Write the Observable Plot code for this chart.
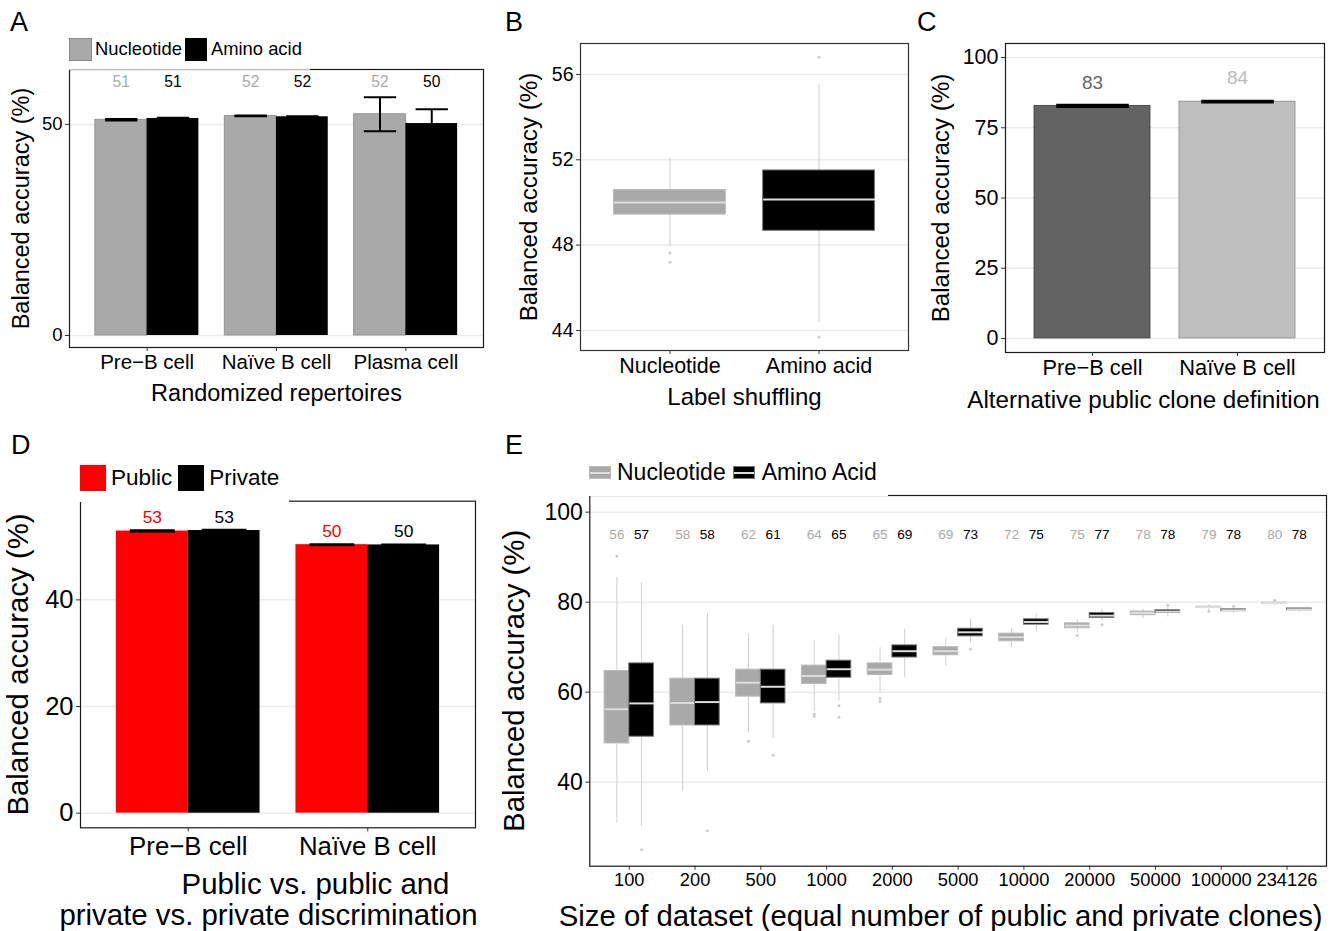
<!DOCTYPE html>
<html><head><meta charset="utf-8">
<script src="https://cdn.jsdelivr.net/npm/d3@7"></script>
<script src="https://cdn.jsdelivr.net/npm/@observablehq/plot@0.6"></script>
<style>
body{margin:0;background:#fff;}
#fig{position:relative;width:1339px;height:931px;font-family:"Liberation Sans",Arial,Helvetica,sans-serif;color:#000;overflow:hidden;background:#fff;}
.letter{position:absolute;font-size:27px;line-height:1;}
.legend{position:absolute;display:flex;align-items:center;white-space:nowrap;line-height:1;}
.key{display:inline-block;box-sizing:border-box;position:relative;flex:none;}
.med{position:absolute;left:0;right:0;top:4.5px;height:2px;background:#ddd;}
.cover{position:absolute;}
</style></head><body><div id="fig"></div>
<script>
const FONT = '"Liberation Sans", Arial, Helvetica, sans-serif';

// ---------- Panel A: randomized repertoires ----------
const seriesA = ["Nucleotide", "Amino acid"];
const catsA = ["Pre\u2212B cell", "Na\u00efve B cell", "Plasma cell"];
const nucA = [51.1, 52.0, 52.4];
const aaA = [51.4, 51.8, 50.2];
const nucErrA = [0.15, 0.1, 4.05];
const aaErrA = [0.15, 0.1, 3.4];
const nucLabA = [51, 52, 52];
const aaLabA = [51, 52, 50];

// ---------- Panel B: label shuffling ----------
const catsB = ["Nucleotide", "Amino acid"];
const q1B = [49.43, 48.67];
const medB = [50.0, 50.14];
const q3B = [50.58, 51.5];
const loB = [47.94, 44.39];
const hiB = [52.08, 55.56];
const outB = [[47.63, 47.2], [56.81, 43.69]];

// ---------- Panel C: alternative public clone definition ----------
const catsC = ["Pre\u2212B cell", "Na\u00efve B cell"];
const valC = [82.8, 84.3];
const errC = [0.3, 0.2];
const labC = [83, 84];

// ---------- Panel D: public vs public / private vs private ----------
const seriesD = ["Public", "Private"];
const catsD = ["Pre\u2212B cell", "Na\u00efve B cell"];
const pubD = [52.9, 50.35];
const privD = [53.0, 50.3];
const pubErrD = [0.15, 0.1];
const privErrD = [0.15, 0.1];
const pubLabD = [53, 50];
const privLabD = [53, 50];

// ---------- Panel E: dataset size ----------
const seriesE = ["Nucleotide", "Amino Acid"];
const sizesE = ["100", "200", "500", "1000", "2000", "5000", "10000", "20000", "50000", "100000", "234126"];
const nucQ1 = [48.6, 52.6, 59.0, 61.8, 63.8, 68.2, 71.3, 74.2, 77.1, 78.7, 79.6];
const nucMed = [56.2, 57.6, 62.1, 63.6, 65.0, 69.1, 72.2, 74.8, 77.6, 78.9, 79.8];
const nucQ3 = [64.7, 63.0, 65.0, 65.9, 66.4, 70.0, 73.0, 75.3, 77.9, 79.0, 79.9];
const nucLo = [31.0, 38.1, 51.0, 55.8, 59.9, 65.9, 70.0, 73.3, 76.5, 78.3, 79.4];
const nucHi = [85.6, 75.0, 73.0, 71.5, 70.0, 72.1, 74.3, 76.2, 78.5, 79.5, 80.4];
const nucOut = [[90.2], [], [49.1], [55.1, 54.6], [58.6, 57.9], [], [], [72.6], [], [78.0], [80.4]];
const aaQ1 = [50.1, 52.6, 57.5, 63.2, 67.7, 72.4, 75.0, 76.5, 77.6, 78.0, 78.2];
const aaMed = [57.5, 57.8, 61.2, 65.1, 69.1, 73.3, 75.6, 77.0, 77.9, 78.2, 78.4];
const aaQ3 = [66.4, 63.0, 65.0, 67.0, 70.4, 74.1, 76.2, 77.6, 78.2, 78.4, 78.6];
const aaLo = [30.3, 42.5, 49.8, 58.1, 63.4, 71.0, 73.6, 75.9, 76.8, 77.6, 77.8];
const aaHi = [84.4, 77.6, 75.0, 72.8, 74.1, 76.3, 77.6, 78.5, 78.9, 78.8, 78.8];
const aaOut = [[25.0], [29.2], [46.0], [57.0, 54.4], [], [69.6], [], [75.0], [79.3], [79.1], []];
const nucLabE = [56, 58, 62, 64, 65, 69, 72, 75, 78, 79, 80];
const aaLabE = [57, 58, 61, 65, 69, 73, 75, 77, 78, 78, 78];

const YTITLE = "Balanced accuracy (%)";

// ---------- styles ----------
const NUC = "#a9a9a9", NUC_EDGE = "#888", NUC_BOX_EDGE = "#bbb", AA = "#000", AA_BOX_EDGE = "#777";
const GRID = "#ebebeb", WHISK = "#cfcfcf", MEDIAN = "#dddddd", OUTL = "#cccccc";

const fig = document.getElementById("fig");
function place(el, left, top) {
  el.style.position = "absolute"; el.style.left = left + "px"; el.style.top = top + "px";
  fig.appendChild(el); return el;
}
function baseStyle() { return {fontFamily: FONT, color: "#000", background: "transparent", overflow: "visible"}; }
const FRAME = () => Plot.frame({stroke: "#1a1a1a", strokeWidth: 1.2});
const yTitle = (dx, fontSize) => Plot.text([YTITLE], {frameAnchor: "left", rotate: -90, dx, fontSize, text: d => d, textAnchor: "middle", lineAnchor: "middle"});
const xTitle = (t, dy, fontSize, dx = 0) => Plot.text([t], {frameAnchor: "bottom", dx, dy, fontSize, text: d => d, textAnchor: "middle", lineAnchor: "middle"});

function errMarks(rows, cap, sw) {
  return [
    Plot.link(rows, {x1: "xc", x2: "xc", y1: d => d.v - d.e, y2: d => d.v + d.e, stroke: "#000", strokeWidth: sw}),
    Plot.link(rows, {x1: d => d.xc - cap, x2: d => d.xc + cap, y1: d => d.v + d.e, y2: d => d.v + d.e, stroke: "#000", strokeWidth: sw}),
    Plot.link(rows, {x1: d => d.xc - cap, x2: d => d.xc + cap, y1: d => d.v - d.e, y2: d => d.v - d.e, stroke: "#000", strokeWidth: sw})
  ];
}
function boxMarks(rows, fill, edge) {
  const outs = rows.flatMap(d => d.out.map(v => ({xc: d.xc, v})));
  return [
    Plot.link(rows, {x1: "xc", x2: "xc", y1: "lo", y2: "q1", stroke: WHISK, strokeWidth: 1}),
    Plot.link(rows, {x1: "xc", x2: "xc", y1: "q3", y2: "hi", stroke: WHISK, strokeWidth: 1}),
    Plot.rect(rows, {x1: "x1", x2: "x2", y1: "q1", y2: "q3", fill, stroke: edge, strokeWidth: 1}),
    Plot.link(rows, {x1: "x1", x2: "x2", y1: "med", y2: "med", stroke: MEDIAN, strokeWidth: 2}),
    Plot.dot(outs, {x: "xc", y: "v", r: 1.5, fill: OUTL, stroke: null})
  ];
}

// ================= Panel A =================
{
  const nuc = catsA.map((c, k) => ({x1: k + 0.6, x2: k + 1, xc: k + 0.8, v: nucA[k], e: nucErrA[k], lab: nucLabA[k]}));
  const aa = catsA.map((c, k) => ({x1: k + 1, x2: k + 1.4, xc: k + 1.2, v: aaA[k], e: aaErrA[k], lab: aaLabA[k]}));
  const p = Plot.plot({
    width: 490, height: 420, marginLeft: 69, marginRight: 7, marginTop: 69, marginBottom: 73,
    style: baseStyle(),
    x: {domain: [0.4, 3.6]}, y: {domain: [-2.84, 63]},
    marks: [
      Plot.gridY([0, 50], {stroke: GRID, strokeOpacity: 1, strokeWidth: 1.5}),
      Plot.rect(nuc, {x1: "x1", x2: "x2", y1: 0, y2: "v", fill: NUC, stroke: NUC_EDGE, strokeWidth: 0.8}),
      Plot.rect(aa, {x1: "x1", x2: "x2", y1: 0, y2: "v", fill: AA}),
      ...errMarks(nuc, 0.125, 2), ...errMarks(aa, 0.125, 2),
      Plot.text(nuc, {x: "xc", y: () => 60, text: "lab", fill: "#aaa", fontSize: 15.6}),
      Plot.text(aa, {x: "xc", y: () => 60, text: "lab", fill: "#000", fontSize: 15.6}),
      FRAME(),
      Plot.axisY({ticks: [0, 50], tickSize: 4, tickPadding: 3, fontSize: 18.5, label: null, stroke: "#333", fill: "#000"}),
      Plot.axisX({ticks: [1, 2, 3], tickFormat: i => catsA[i - 1], tickSize: 4, tickPadding: 3, fontSize: 20.5, label: null, stroke: "#333", fill: "#000"}),
      yTitle(-48, 23.5),
      xTitle("Randomized repertoires", 45.5, 23.5)
    ]
  });
  place(p, 0, 0);
}

// ================= Panel B =================
{
  const rows = catsB.map((c, k) => ({x1: k + 1 - 0.375, x2: k + 1 + 0.375, xc: k + 1, q1: q1B[k], med: medB[k], q3: q3B[k], lo: loB[k], hi: hiB[k], out: outB[k]}));
  const p = Plot.plot({
    width: 420, height: 420, marginLeft: 90, marginRight: 2, marginTop: 43, marginBottom: 70,
    style: baseStyle(),
    x: {domain: [0.4, 2.6]}, y: {domain: [43.06, 57.45]},
    marks: [
      Plot.gridY([44, 48, 52, 56], {stroke: GRID, strokeOpacity: 1, strokeWidth: 1.5}),
      ...boxMarks([rows[0]], NUC, NUC_BOX_EDGE),
      ...boxMarks([rows[1]], AA, AA_BOX_EDGE),
      Plot.frame({stroke: "#333", strokeWidth: 1.2}),
      Plot.axisY({ticks: [44, 48, 52, 56], tickSize: 4, tickPadding: 3, fontSize: 19.5, label: null, stroke: "#333", fill: "#000"}),
      Plot.axisX({ticks: [1, 2], tickFormat: i => catsB[i - 1], tickSize: 4, tickPadding: 3, fontSize: 21.5, label: null, stroke: "#333", fill: "#000"}),
      yTitle(-51, 24.2),
      xTitle("Label shuffling", 46.7, 24)
    ]
  });
  place(p, 490, 0);
}

// ================= Panel C =================
{
  const rows = catsC.map((c, k) => ({x1: k + 0.6, x2: k + 1.4, xc: k + 1, v: valC[k], e: errC[k], lab: labC[k]}));
  const p = Plot.plot({
    width: 429, height: 420, marginLeft: 95, marginRight: 15, marginTop: 43, marginBottom: 68,
    style: baseStyle(),
    x: {domain: [0.4, 2.6]}, y: {domain: [-5, 105]},
    marks: [
      Plot.gridY([0, 25, 50, 75, 100], {stroke: GRID, strokeOpacity: 1, strokeWidth: 1.5}),
      Plot.rect([rows[0]], {x1: "x1", x2: "x2", y1: 0, y2: "v", fill: "#636363", stroke: "#3d3d3d", strokeWidth: 0.8}),
      Plot.rect([rows[1]], {x1: "x1", x2: "x2", y1: 0, y2: "v", fill: "#bebebe", stroke: "#8a8a8a", strokeWidth: 0.8}),
      ...errMarks(rows, 0.25, 2.5),
      Plot.text([rows[0]], {x: "xc", y: "v", dy: -23.3, text: "lab", fill: "#666", fontSize: 19}),
      Plot.text([rows[1]], {x: "xc", y: "v", dy: -23.3, text: "lab", fill: "#bbb", fontSize: 19}),
      Plot.frame({stroke: "#1a1a1a", strokeWidth: 1.2}),
      Plot.axisY({ticks: [0, 25, 50, 75, 100], tickSize: 4, tickPadding: 3, fontSize: 21.5, label: null, stroke: "#333", fill: "#000"}),
      Plot.axisX({ticks: [1, 2], tickFormat: i => catsC[i - 1], tickSize: 4, tickPadding: 3, fontSize: 21.8, label: null, stroke: "#333", fill: "#000"}),
      yTitle(-64.5, 24.2),
      xTitle("Alternative public clone definition", 48, 24.2, -21.5)
    ]
  });
  place(p, 910, 0);
}

// ================= Panel D =================
{
  const pub = catsD.map((c, k) => ({x1: k + 0.6, x2: k + 1, xc: k + 0.8, v: pubD[k], e: pubErrD[k], lab: pubLabD[k]}));
  const priv = catsD.map((c, k) => ({x1: k + 1, x2: k + 1.4, xc: k + 1.2, v: privD[k], e: privErrD[k], lab: privLabD[k]}));
  const p = Plot.plot({
    width: 490, height: 511, marginLeft: 80, marginRight: 15, marginTop: 80.7, marginBottom: 103.7,
    style: baseStyle(),
    x: {domain: [0.4, 2.6]}, y: {domain: [-2.74, 58.5]},
    marks: [
      Plot.gridY([0, 20, 40], {stroke: GRID, strokeOpacity: 1, strokeWidth: 1.5}),
      Plot.rect(pub, {x1: "x1", x2: "x2", y1: 0, y2: "v", fill: "#ff0000"}),
      Plot.rect(priv, {x1: "x1", x2: "x2", y1: 0, y2: "v", fill: "#000"}),
      ...errMarks(pub, 0.125, 2), ...errMarks(priv, 0.125, 2),
      Plot.text(pub, {x: "xc", y: "v", dy: -13.5, text: "lab", fill: "#ff0000", fontSize: 17.4}),
      Plot.text(priv, {x: "xc", y: "v", dy: -13.5, text: "lab", fill: "#000", fontSize: 17.4}),
      FRAME(),
      Plot.axisY({ticks: [0, 20, 40], tickSize: 4, tickPadding: 3, fontSize: 25.5, label: null, stroke: "#333", fill: "#000"}),
      Plot.axisX({ticks: [1, 2], tickFormat: i => catsD[i - 1], tickSize: 4, tickPadding: 5, fontSize: 25.8, label: null, stroke: "#333", fill: "#000"}),
      yTitle(-62.3, 29.4),
      xTitle("Public vs. public and", 56.9, 29.4, 37.5),
      xTitle("private vs. private discrimination", 87.6, 29.4, -9.5)
    ]
  });
  place(p, 0, 420);
}

// ================= Panel E =================
{
  const nuc = sizesE.map((s, k) => ({x1: k + 1 - 0.375, x2: k + 1, xc: k + 1 - 0.1875, q1: nucQ1[k], med: nucMed[k], q3: nucQ3[k], lo: nucLo[k], hi: nucHi[k], out: nucOut[k], lab: nucLabE[k]}));
  const aa = sizesE.map((s, k) => ({x1: k + 1, x2: k + 1.375, xc: k + 1 + 0.1875, q1: aaQ1[k], med: aaMed[k], q3: aaQ3[k], lo: aaLo[k], hi: aaHi[k], out: aaOut[k], lab: aaLabE[k]}));
  const p = Plot.plot({
    width: 849, height: 511, marginLeft: 99.3, marginRight: 13, marginTop: 75, marginBottom: 65.3,
    style: baseStyle(),
    x: {domain: [0.4, 11.6]}, y: {domain: [21.33, 103.7]},
    marks: [
      Plot.gridY([40, 60, 80, 100], {stroke: GRID, strokeOpacity: 1, strokeWidth: 1.5}),
      ...boxMarks(nuc, NUC, NUC_BOX_EDGE),
      ...boxMarks(aa, AA, AA_BOX_EDGE),
      Plot.text(nuc, {x: "xc", y: () => 95, text: "lab", fill: "#aaa", fontSize: 13.6}),
      Plot.text(aa, {x: "xc", y: () => 95, text: "lab", fill: "#000", fontSize: 13.6}),
      FRAME(),
      Plot.axisY({ticks: [40, 60, 80, 100], tickSize: 4, tickPadding: 3, fontSize: 23, label: null, stroke: "#333", fill: "#000"}),
      Plot.axisX({ticks: d3.range(1, 12), tickFormat: i => sizesE[i - 1], tickSize: 4, tickPadding: 3, fontSize: 18.3, label: null, stroke: "#333", fill: "#000"}),
      yTitle(-74.9, 29.4),
      xTitle("Size of dataset (equal number of public and private clones)", 50, 29.3, -17.5)
    ]
  });
  place(p, 490, 420);
}

// ================= legends & panel letters =================
fig.insertAdjacentHTML("beforeend", `
<div class="cover" style="left:62px;top:30px;width:248px;height:40px;background:rgba(255,255,255,0.72)"></div>
<div class="legend" style="left:69px;top:38px;height:23px;font-size:18.4px">
  <span class="key" style="width:23px;height:23px;background:${NUC};border:1px solid ${NUC_EDGE}"></span>
  <span style="margin-left:3px">${seriesA[0]}</span>
  <span class="key" style="width:22px;height:23px;background:${AA};margin-left:3px"></span>
  <span style="margin-left:4px">${seriesA[1]}</span>
</div>
<div class="cover" style="left:73px;top:455px;width:216px;height:47px;background:#fff"></div>
<div class="legend" style="left:80px;top:465px;height:26px;font-size:22.5px">
  <span class="key" style="width:26px;height:26px;background:#ff0000"></span>
  <span style="margin-left:5px">${seriesD[0]}</span>
  <span class="key" style="width:26px;height:26px;background:#000;margin-left:6px"></span>
  <span style="margin-left:5px">${seriesD[1]}</span>
</div>
<div class="cover" style="left:582px;top:455px;width:306px;height:41px;background:#fff"></div>
<div class="legend" style="left:589px;top:466px;height:13px;font-size:23px">
  <span class="key" style="width:22px;height:13px;background:${NUC};border:1px solid ${NUC_BOX_EDGE}"><span class="med"></span></span>
  <span style="margin-left:6px">${seriesE[0]}</span>
  <span class="key" style="width:22px;height:13px;background:${AA};border:1px solid ${AA_BOX_EDGE};margin-left:7px"><span class="med"></span></span>
  <span style="margin-left:7px">${seriesE[1]}</span>
</div>
<div class="letter" style="left:10px;top:8.8px">A</div>
<div class="letter" style="left:505px;top:8.8px">B</div>
<div class="letter" style="left:917px;top:8.8px">C</div>
<div class="letter" style="left:11px;top:432px">D</div>
<div class="letter" style="left:505px;top:432px">E</div>
`);
</script></body></html>
